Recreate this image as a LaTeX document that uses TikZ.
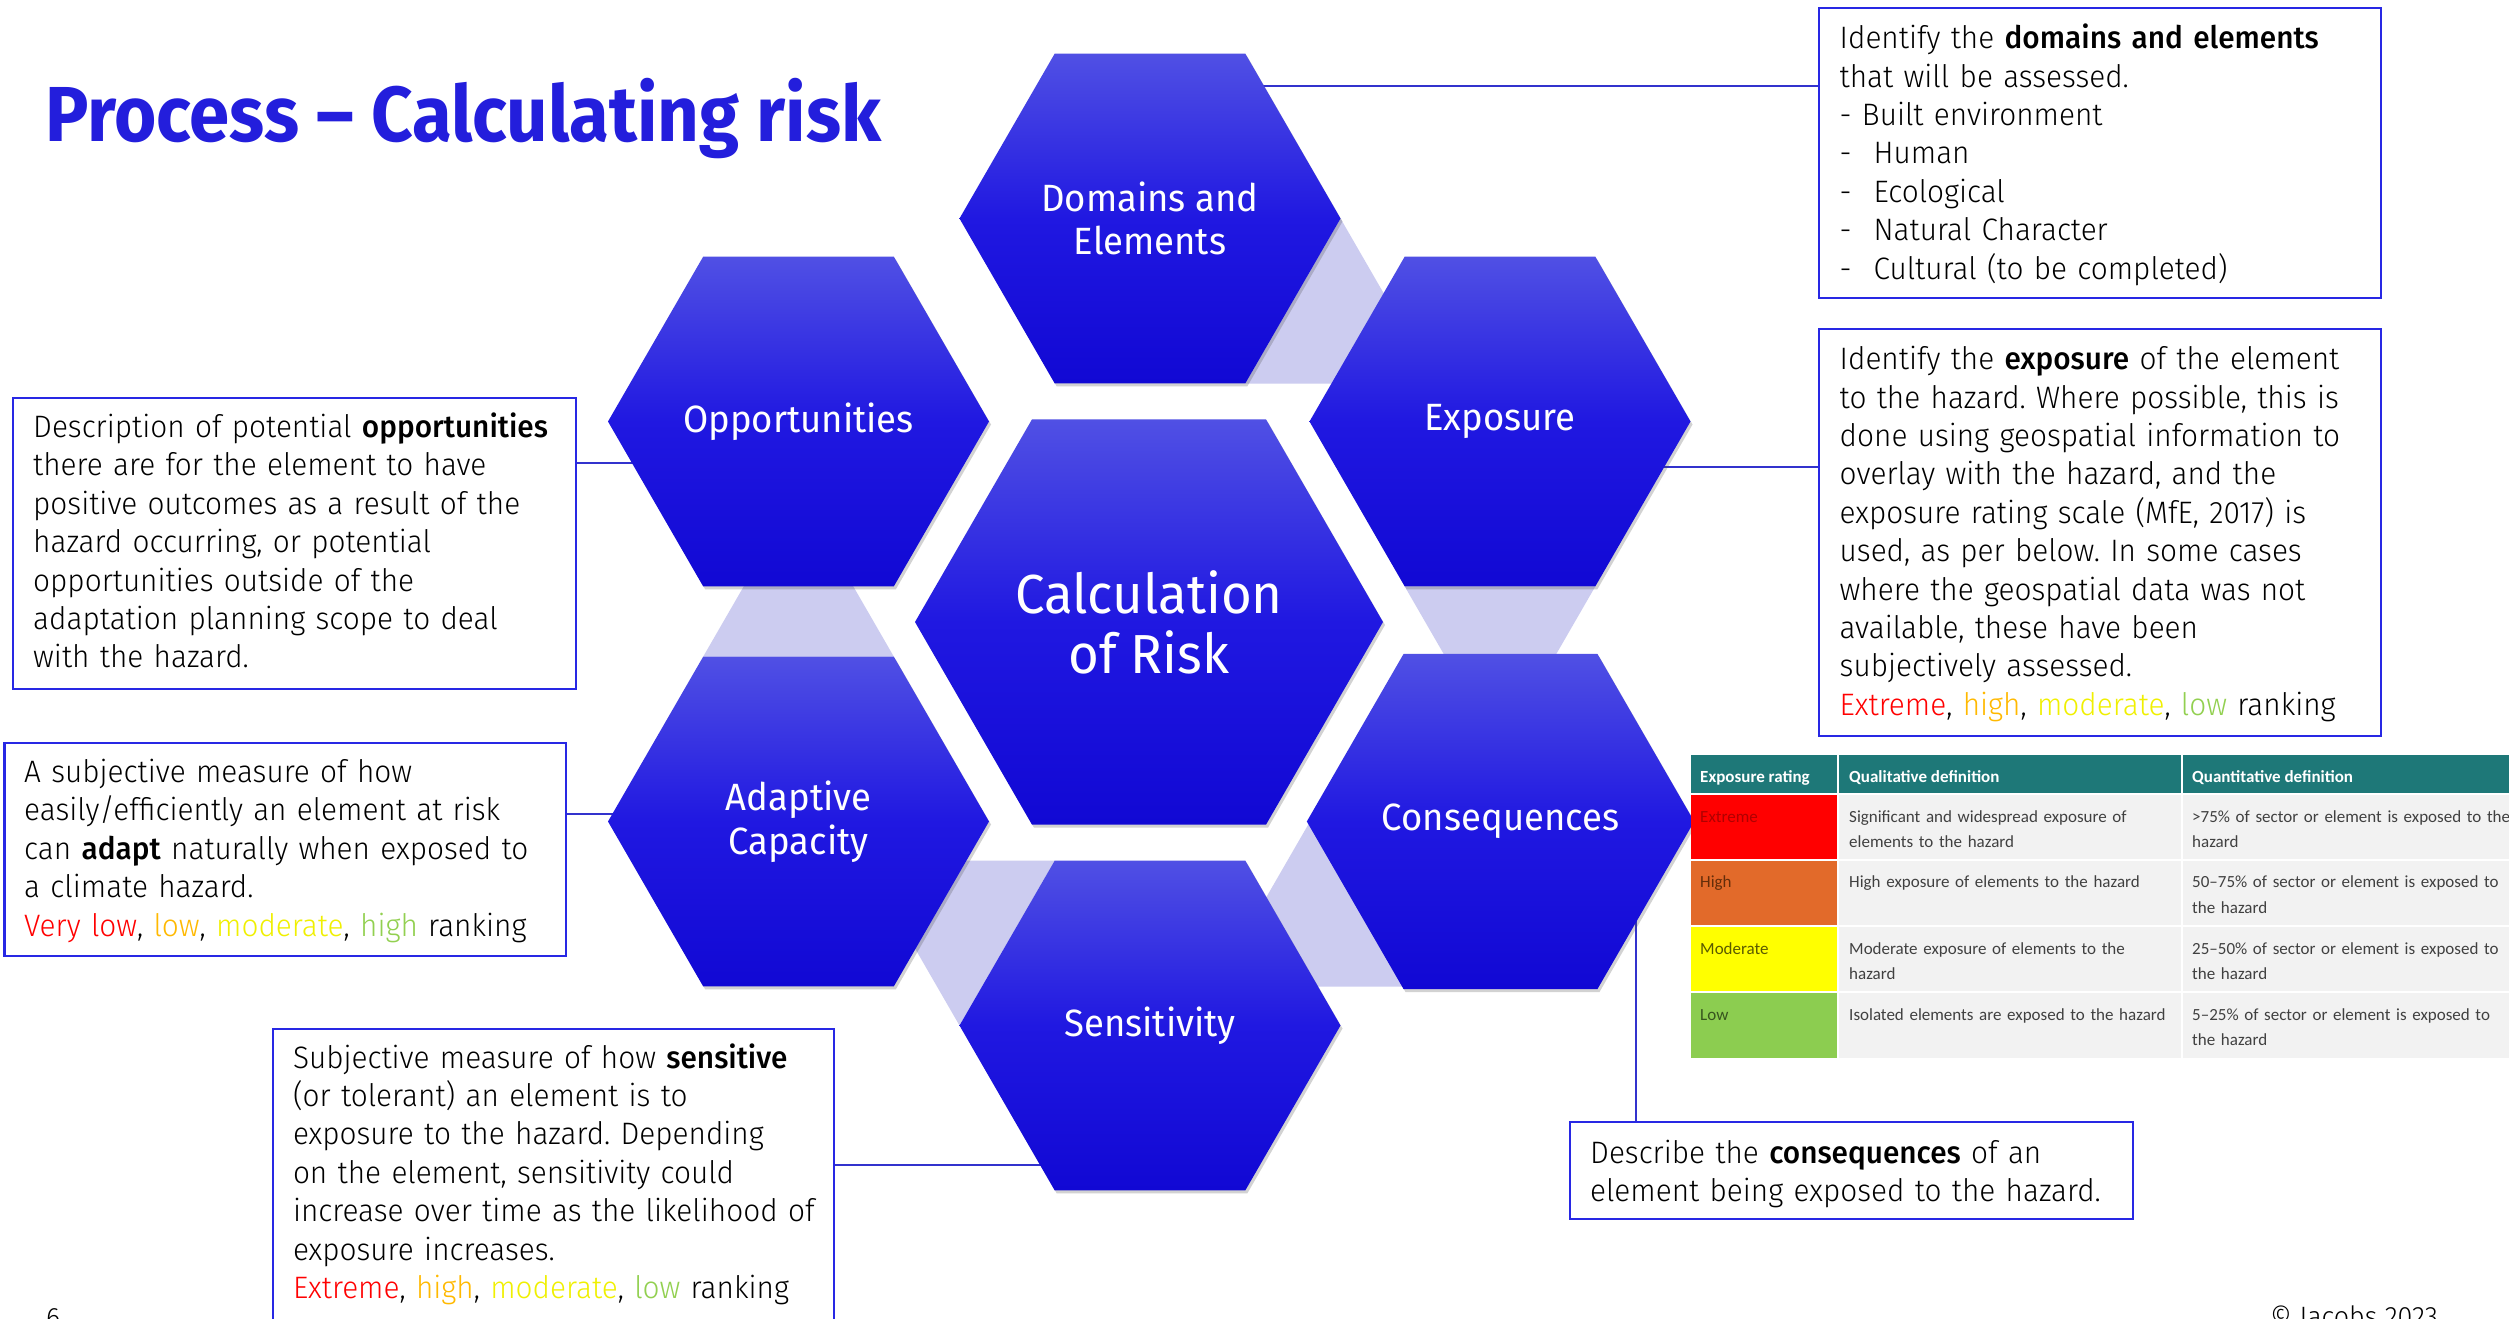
\documentclass[tikz,border=0pt]{standalone}
\usepackage{fontspec}
\setmainfont[FakeStretch=0.96, BoldFont={Fira Sans Medium}]{Fira Sans Light}
\newfontfamily\hexfont[FakeStretch=0.96]{Fira Sans}
\newfontfamily\titlefont[FakeStretch=0.93]{Fira Sans}
\newfontfamily\tabfont{Carlito}
\usetikzlibrary{shapes.geometric,shadows}
\pgfdeclarelayer{paper}
\pgfdeclarelayer{bg}
\pgfsetlayers{paper,bg,main}
\definecolor{hextop}{RGB}{80,80,228}
\definecolor{hexmid}{RGB}{32,24,225}
\definecolor{hexbot}{RGB}{17,8,212}
\definecolor{linkc}{RGB}{204,204,240}
\definecolor{boxc}{RGB}{40,40,228}
\definecolor{connc}{RGB}{50,50,205}
\definecolor{titlec}{RGB}{35,30,220}
\definecolor{rkred}{RGB}{255,0,0}
\definecolor{rkorange}{RGB}{255,185,0}
\definecolor{rkyellow}{RGB}{240,240,0}
\definecolor{rkgreen}{RGB}{146,208,80}
\definecolor{tealc}{RGB}{30,120,120}
\definecolor{cellgray}{RGB}{242,242,242}
\definecolor{exred}{RGB}{255,0,0}
\definecolor{exorange}{RGB}{226,106,42}
\definecolor{exyellow}{RGB}{255,255,0}
\definecolor{exgreen}{RGB}{140,205,80}
\pgfdeclareverticalshading{hexgrad}{100bp}{color(0bp)=(hexbot); color(25bp)=(hexbot); color(50bp)=(hexmid); color(75bp)=(hextop); color(100bp)=(hextop)}
\tikzset{
  hexnode/.style={regular polygon, regular polygon sides=6, inner sep=0pt, outer sep=0pt,
    shade, shading=hexgrad, text=white, align=center,
    font=\hexfont\fontsize{38}{43.5}\selectfont,
    drop shadow={shadow xshift=2pt, shadow yshift=-3pt, opacity=0.25, fill=black!70}},
  infobox/.style={draw=boxc, line width=2.6pt, fill=white, inner sep=0pt, outer sep=0pt, anchor=north west},
  boxtext/.style={inner sep=0pt, anchor=north west, align=left, text width=540pt,
    font=\fontsize{31}{38.4}\selectfont, text=black},
  conn/.style={draw=connc, line width=1.8pt},
  linkfill/.style={fill=linkc},
  tabtext/.style={inner sep=0pt, anchor=north west, align=left,
    font=\tabfont\fontsize{17}{25.5}\selectfont, text=black!75},
  tabhead/.style={tabtext, text=white, font=\tabfont\bfseries\fontsize{17}{25.5}\selectfont},
  small/.style={inner sep=0pt, anchor=base west, font=\fontsize{28}{30}\selectfont, text=black}
}
\frenchspacing
\begin{document}
\frenchspacing
\begin{tikzpicture}[x=1pt,y=-1pt]
\useasboundingbox (0,0) rectangle (2509,1319);
\begin{pgfonlayer}{paper}
\fill[white] (0,0) rectangle (2509,1319);
\end{pgfonlayer}

% title
\node[inner sep=0pt, anchor=base west, text=titlec, font=\titlefont\bfseries\fontsize{78}{80}\selectfont] (title) at (45,141.7) {Process – Calculating risk};

% hexagons
\node[hexnode, minimum size=381pt] (dom) at (1150,218.5) {Domains and\\Elements};
\node[hexnode, minimum size=381pt] (exp) at (1500,421.5) {Exposure};
\node[hexnode, minimum size=381pt] (opp) at (798.5,421.5) {Opportunities};
\node[hexnode, minimum size=468pt, font=\hexfont\fontsize{55}{60}\selectfont] (calc) at (1149,622) {Calculation\\of Risk};
\node[hexnode, minimum size=381pt] (ada) at (798.5,821.5) {Adaptive\\Capacity};
\node[hexnode, minimum size=381pt] (con) at (1500.5,821.5) {Consequences};
\node[hexnode, minimum size=381pt] (sen) at (1150,1025.5) {Sensitivity};

% boxes
\node[infobox, minimum width=562pt, minimum height=290pt] (bA) at (1819,8) {};
\node[infobox, minimum width=562pt, minimum height=407pt] (bB) at (1819,329) {};
\node[infobox, minimum width=563pt, minimum height=291pt] (bC) at (13,398) {};
\node[infobox, minimum width=561.5pt, minimum height=213pt] (bD) at (4.5,743) {};
\node[infobox, minimum width=561pt, minimum height=300pt] (bE) at (273,1029) {};
\node[infobox, minimum width=563pt, minimum height=97pt] (bF) at (1570,1122) {};

\node[boxtext] (tA) at (1839.5,21.7) {\strut Identify the \textbf{domains and elements}\\
that will be assessed.\\
- Built environment\\
\makebox[34pt][l]{-}Human\\
\makebox[34pt][l]{-}Ecological\\
\makebox[34pt][l]{-}Natural Character\\
\makebox[34pt][l]{-}Cultural (to be completed)};

\node[boxtext] (tB) at (1839.5,342.6) {\strut Identify the \textbf{exposure} of the element\\
to the hazard. Where possible, this is\\
done using geospatial information to\\
overlay with the hazard, and the\\
exposure rating scale (MfE, 2017) is\\
used, as per below. In some cases\\
where the geospatial data was not\\
available, these have been\\
subjectively assessed.\\
{\color{rkred}Extreme}, {\color{rkorange}high}, {\color{rkyellow}moderate}, {\color{rkgreen}low} ranking};

\node[boxtext] (tC) at (33,410.5) {\strut Description of potential \textbf{opportunities}\\
there are for the element to have\\
positive outcomes as a result of the\\
hazard occurring, or potential\\
opportunities outside of the\\
adaptation planning scope to deal\\
with the hazard.};

\node[boxtext] (tD) at (24,755.5) {\strut A subjective measure of how\\
easily/efficiently an element at risk\\
can \textbf{adapt} naturally when exposed to\\
a climate hazard.\\
{\color{rkred}Very low}, {\color{rkorange}low}, {\color{rkyellow}moderate}, {\color{rkgreen}high} ranking};

\node[boxtext] (tE) at (292.8,1041.1) {\strut Subjective measure of how \textbf{sensitive}\\
(or tolerant) an element is to\\
exposure to the hazard. Depending\\
on the element, sensitivity could\\
increase over time as the likelihood of\\
exposure increases.\\
{\color{rkred}Extreme}, {\color{rkorange}high}, {\color{rkyellow}moderate}, {\color{rkgreen}low} ranking};

\node[boxtext] (tF) at (1590,1136.1) {\strut Describe the \textbf{consequences} of an\\
element being exposed to the hazard.};

% connector end coordinates on boxes
\coordinate (cA) at (1819,86);
\coordinate (cB) at (1819,467);
\coordinate (cC) at (576,463);
\coordinate (cD) at (566,814);
\coordinate (cE) at (834,1165);
\coordinate (cF) at (1636,1122);

\begin{pgfonlayer}{bg}
  % links between hexagons
  \fill[linkfill] ([shift={(190.5,0)}]dom.center) -- ([shift={(95.25,165)}]dom.center) -- ([shift={(285.75,165)}]dom.center) -- cycle;
  \fill[linkfill] ([shift={(-95.25,165)}]exp.center) -- ([shift={(95.25,165)}]exp.center) -- ([shift={(0,330)}]exp.center) -- cycle;
  \fill[linkfill] ([shift={(-190.5,0)}]con.center) -- ([shift={(-95.25,165)}]con.center) -- ([shift={(-285.75,165)}]con.center) -- cycle;
  \fill[linkfill] ([shift={(-190.5,0)}]sen.center) -- ([shift={(-95.25,-165)}]sen.center) -- ([shift={(-285.75,-165)}]sen.center) -- cycle;
  \fill[linkfill] ([shift={(-95.25,-165)}]ada.center) -- ([shift={(95.25,-165)}]ada.center) -- ([shift={(0,-330)}]ada.center) -- cycle;
  % connectors
  \draw[conn] (cA) -- (cA -| dom.center);
  \draw[conn] (cB) -- (cB -| exp.center);
  \draw[conn] (cC) -- (cC -| opp.center);
  \draw[conn] (cD) -- (cD -| ada.center);
  \draw[conn] (cE) -- (cE -| sen.center);
  \draw[conn] (cF) -- (cF |- con.center);
\end{pgfonlayer}

% table
\fill[tealc] (1691,755) rectangle (2520,794);
\fill[exred] (1691,794) rectangle (1838,860);
\fill[exorange] (1691,860) rectangle (1838,926);
\fill[exyellow] (1691,926) rectangle (1838,992);
\fill[exgreen] (1691,992) rectangle (1838,1058);
\fill[cellgray] (1838,794) rectangle (2520,1058);
\draw[white, line width=1.5pt] (1838,755) -- (1838,1058) (2182,755) -- (2182,1058)
  (1691,794) -- (2520,794) (1691,860) -- (2520,860) (1691,926) -- (2520,926) (1691,992) -- (2520,992);

\node[tabhead] (h1) at (1700,764.9) {\strut Exposure rating};
\node[tabhead] (h2) at (1849,764.9) {\strut Qualitative definition};
\node[tabhead] (h3) at (2192,764.9) {\strut Quantitative definition};

\node[tabtext, text={rgb,255:red,176;green,0;blue,0}] (r1a) at (1700,804.2) {\strut Extreme};
\node[tabtext, text width=330pt] (r1b) at (1849,804.2) {\strut Significant and widespread exposure of\\elements to the hazard};
\node[tabtext, text width=330pt] (r1c) at (2192,804.2) {\strut >75\% of sector or element is exposed to the\\hazard};

\node[tabtext, text={rgb,255:red,100;green,45;blue,10}] (r2a) at (1700,869.7) {\strut High};
\node[tabtext, text width=330pt] (r2b) at (1849,869.7) {\strut High exposure of elements to the hazard};
\node[tabtext, text width=330pt] (r2c) at (2192,869.7) {\strut 50–75\% of sector or element is exposed to\\the hazard};

\node[tabtext, text={rgb,255:red,90;green,90;blue,0}] (r3a) at (1700,936.2) {\strut Moderate};
\node[tabtext, text width=330pt] (r3b) at (1849,936.2) {\strut Moderate exposure of elements to the\\hazard};
\node[tabtext, text width=330pt] (r3c) at (2192,936.2) {\strut 25–50\% of sector or element is exposed to\\the hazard};

\node[tabtext, text={rgb,255:red,55;green,85;blue,30}] (r4a) at (1700,1002.2) {\strut Low};
\node[tabtext, text width=330pt] (r4b) at (1849,1002.2) {\strut Isolated elements are exposed to the hazard};
\node[tabtext, text width=330pt] (r4c) at (2192,1002.2) {\strut 5–25\% of sector or element is exposed to\\the hazard};

% footer
\node[small] (pg) at (46,1327) {6};
\node[small] (copy) at (2270,1326) {© Jacobs 2023};
\end{tikzpicture}
\end{document}
